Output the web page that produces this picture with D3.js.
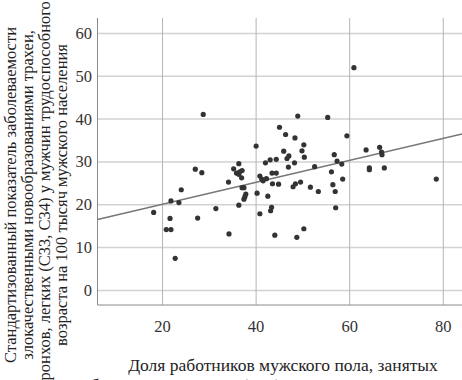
<!DOCTYPE html>
<html>
<head>
<meta charset="utf-8">
<script src="https://d3js.org/d3.v7.min.js"></script>
<style>
  body { margin: 0; background: #fff; }
  svg { display: block; font-family: "Liberation Serif", "DejaVu Serif", serif; }
</style>
</head>
<body>
<svg></svg>
<script>
// Share of male workers (x) and standardized incidence (y)
const maleShare = [28.7, 48.9, 55.3, 60.9, 22.7,
  45.0, 46.3, 48.3, 50.2, 59.4, 40.0, 45.9, 49.8, 47.0, 46.6, 50.3, 44.3, 43.0, 42.0, 48.2,
  46.9, 52.5, 56.7, 57.3, 58.3, 56.1, 63.5, 66.4, 66.9, 66.8, 64.2, 64.2, 67.4, 78.5, 58.5,
  56.4, 56.9, 57.0, 53.3, 51.6, 49.5, 48.4, 47.9, 44.8, 43.5, 43.4, 44.3, 40.8, 41.2, 41.5,
  42.2, 40.2, 42.5, 43.3, 43.1, 40.8, 44.0, 48.7, 50.2, 36.3, 35.2, 35.8, 36.5, 37.0, 36.3,
  36.9, 34.1, 37.0, 37.4, 37.8, 37.6, 37.4, 36.3, 31.4, 34.2, 27.0, 28.4, 24.0, 21.8, 23.5,
  27.5, 18.1, 21.6, 20.8, 21.8];
const incidence = [41.1, 40.7, 40.4, 52.0, 7.5,
  38.1, 36.4, 35.6, 34.0, 36.1, 33.7, 32.5, 32.6, 31.4, 30.8, 31.1, 30.6, 30.5, 29.8, 29.8,
  28.8, 28.9, 31.7, 30.2, 29.5, 27.7, 32.8, 33.4, 31.7, 32.3, 28.6, 28.2, 28.6, 26.0, 26.0,
  24.7, 23.1, 19.3, 23.1, 24.1, 25.3, 24.9, 24.2, 24.8, 24.9, 27.4, 27.4, 26.7, 26.0, 25.6,
  26.1, 22.7, 22.0, 19.4, 18.6, 17.9, 12.9, 12.4, 14.4, 29.6, 28.4, 27.4, 27.7, 28.0, 27.1,
  26.3, 25.3, 24.0, 24.0, 22.5, 21.9, 21.3, 19.9, 19.1, 13.2, 28.3, 27.5, 23.5, 20.9, 20.5,
  16.9, 18.2, 16.8, 14.2, 14.2];
const xTicks = [20, 40, 60, 80];
const yTicks = [0, 10, 20, 30, 40, 50, 60];
const fit = {intercept: 15.0, slope: 0.2565}; // regression line

const yTitle = [
  "Стандартизованный показатель заболеваемости",
  "злокачественными новообразованиями трахеи,",
  "бронхов, легких (С33, С34) у мужчин трудоспособного",
  "возраста на 100 тысяч мужского населения"
];
const xTitle = [
  "Доля работников мужского пола, занятых",
  "на работах с вредными и (или) опасными условиями труда, %"
];

const W = 462, H = 380;
const margin = {top: 18, right: 0, bottom: 75, left: 97.5};
const width = W - margin.left - margin.right,
      height = H - margin.top - margin.bottom;

const svg = d3.select("svg").attr("width", W).attr("height", H);
const g = svg.append("g").attr("transform", `translate(${margin.left},${margin.top})`);

const x = d3.scaleLinear().domain([6.1, 84]).range([0, width]);
const y = d3.scaleLinear().domain([-3.4, 63.6]).range([height, 0]);

// grid
g.selectAll(".hgrid").data(yTicks).enter().append("line")
  .attr("x1", 0).attr("x2", width)
  .attr("y1", d => y(d)).attr("y2", d => y(d))
  .attr("stroke", "#d2d2d2").attr("stroke-width", 1.5);
g.selectAll(".vgrid").data(xTicks).enter().append("line")
  .attr("x1", d => x(d)).attr("x2", d => x(d))
  .attr("y1", 0).attr("y2", height)
  .attr("stroke", "#b4b4b4").attr("stroke-width", 1);

// axis lines
g.append("line").attr("x1", 0).attr("x2", 0).attr("y1", 0).attr("y2", height)
  .attr("stroke", "#8a8a8a").attr("stroke-width", 1);
g.append("line").attr("x1", 0).attr("x2", width).attr("y1", height).attr("y2", height)
  .attr("stroke", "#8a8a8a").attr("stroke-width", 1);

// tick labels
g.selectAll(".ytick").data(yTicks).enter().append("text")
  .attr("x", -5.5).attr("y", d => y(d) + 5.5)
  .attr("text-anchor", "end").attr("font-size", "16.5px").attr("fill", "#333")
  .text(d => d);
g.selectAll(".xtick").data(xTicks).enter().append("text")
  .attr("x", d => x(d)).attr("y", height + 27)
  .attr("text-anchor", "middle").attr("font-size", "16.5px").attr("fill", "#333")
  .text(d => d);

// regression line
const [x0, x1] = x.domain();
g.append("line")
  .attr("x1", x(x0)).attr("y1", y(fit.intercept + fit.slope * x0))
  .attr("x2", x(x1)).attr("y2", y(fit.intercept + fit.slope * x1))
  .attr("stroke", "#777").attr("stroke-width", 1.5);

// points
g.selectAll(".dot").data(maleShare).enter().append("circle")
  .attr("cx", d => x(d))
  .attr("cy", (d, i) => y(incidence[i]))
  .attr("r", 2.6)
  .attr("fill", "#333");

// y title (rotated, four lines)
yTitle.forEach((t, i) => {
  svg.append("text")
    .attr("transform", `translate(${15.5 + i * 17},195) rotate(-90)`)
    .attr("text-anchor", "middle").attr("font-size", "16.5px").attr("fill", "#222")
    .text(t);
});

// x title (second line runs off the bottom edge, as in the reference)
xTitle.forEach((t, i) => {
  svg.append("text")
    .attr("x", 283).attr("y", 371 + i * 20)
    .attr("text-anchor", "middle").attr("font-size", "17.5px").attr("fill", "#222")
    .text(t);
});
</script>
</body>
</html>
